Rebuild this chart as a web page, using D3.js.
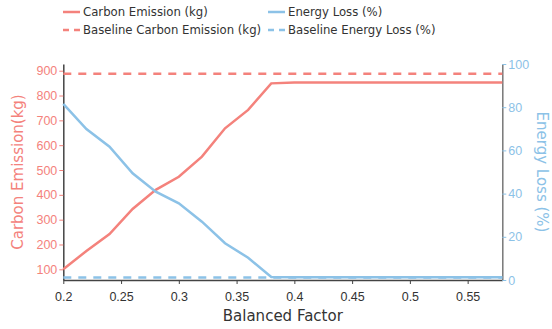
<!DOCTYPE html>
<html><head><meta charset="utf-8">
<script src="https://cdn.jsdelivr.net/npm/d3@7"></script>
<style>body{margin:0;background:#fff}svg{display:block;font-family:"DejaVu Sans",Verdana,sans-serif}</style>
</head><body><div id="chart"></div>
<script>
const factors = [0.2,0.22,0.24,0.26,0.28,0.3,0.32,0.34,0.36,0.38,0.4,0.42,0.44,0.46,0.48,0.5,0.52,0.54,0.56,0.58];
const carbon = [100,174,242,343,420,473,554,668,742,849,852,852,852,852,852,852,852,852,852,852];
const energyLoss = [81.5,69.9,61.7,49.4,40.9,35.5,27,17,10.3,1.4,1.3,1.3,1.3,1.3,1.3,1.3,1.3,1.3,1.3,1.3];
const baselineCarbon = 888;
const baselineEnergy = 1.2;
const xTicks = [0.2,0.25,0.3,0.35,0.4,0.45,0.5,0.55];
const leftTicks = [100,200,300,400,500,600,700,800,900];
const rightTicks = [0,20,40,60,80,100];

const W=552,H=329, L=63.3, R=502.3, T=64, B=280;
const red="#F4827C", blue="#8CC2E7", axisGray="#444";
const svg=d3.select("#chart").append("svg").attr("width",W).attr("height",H);
const x=d3.scaleLinear().domain([0.2,0.58]).range([L,R]);
const yL=d3.scaleLinear().domain([57,927]).range([B,T]);
const yR=d3.scaleLinear().domain([0,100]).range([B,T]);

// axes
const gx=svg.append("g").attr("transform",`translate(0,${B})`)
  .call(d3.axisBottom(x).tickValues(xTicks).tickFormat(d=>d3.format("")(+d.toFixed(2))).tickSize(4).tickSizeOuter(0));
gx.select(".domain").attr("stroke",axisGray).attr("stroke-width",1.5);
gx.selectAll(".tick line").attr("stroke",axisGray);
gx.selectAll("text").attr("fill","#333").style("font-size","12.5px").attr("dy","1.15em");

const gl=svg.append("g").attr("transform",`translate(${L},0)`)
  .call(d3.axisLeft(yL).tickValues(leftTicks).tickSize(4).tickSizeOuter(0));
gl.select(".domain").attr("stroke",axisGray).attr("stroke-width",1.5);
gl.selectAll(".tick line").attr("stroke",red);
gl.selectAll("text").attr("fill",red).style("font-size","12.5px").attr("x",-6);

const gr=svg.append("g").attr("transform",`translate(${R},0)`)
  .call(d3.axisRight(yR).tickValues(rightTicks).tickSize(4).tickSizeOuter(0));
gr.select(".domain").attr("stroke","#777").attr("stroke-width",1.5);
gr.selectAll(".tick line").attr("stroke",blue);
gr.selectAll("text").attr("fill",blue).style("font-size","12.5px").attr("x",6);

// baselines
svg.append("line").attr("x1",L).attr("x2",R).attr("y1",yL(baselineCarbon)).attr("y2",yL(baselineCarbon))
  .attr("stroke",red).attr("stroke-width",2.5).attr("stroke-dasharray","8,7");
svg.append("line").attr("x1",L).attr("x2",R).attr("y1",yR(baselineEnergy)).attr("y2",yR(baselineEnergy))
  .attr("stroke",blue).attr("stroke-width",2.5).attr("stroke-dasharray","8,7");

// lines
svg.append("path").datum(factors.map((f,i)=>[f,carbon[i]]))
  .attr("fill","none").attr("stroke",red).attr("stroke-width",2.5)
  .attr("d",d3.line().x(d=>x(d[0])).y(d=>yL(d[1])));
svg.append("path").datum(factors.map((f,i)=>[f,energyLoss[i]]))
  .attr("fill","none").attr("stroke",blue).attr("stroke-width",2.5)
  .attr("d",d3.line().x(d=>x(d[0])).y(d=>yR(d[1])));

// axis titles
svg.append("text").attr("x",(L+R)/2).attr("y",321).attr("text-anchor","middle")
  .attr("fill","#333").style("font-size","15px").text("Balanced Factor");
svg.append("text").attr("transform",`translate(23,${(T+B)/2}) rotate(-90)`).attr("text-anchor","middle")
  .attr("fill",red).style("font-size","15px").text("Carbon Emission(kg)");
svg.append("text").attr("transform",`translate(537,${(T+B)/2}) rotate(90)`).attr("text-anchor","middle")
  .attr("fill",blue).style("font-size","15px").text("Energy Loss (%)");

// legend
const legend=[
  {label:"Carbon Emission (kg)",color:red,dash:null,x:63,y:12},
  {label:"Energy Loss (%)",color:blue,dash:null,x:268,y:12},
  {label:"Baseline Carbon Emission (kg)",color:red,dash:"6,5",x:63,y:30},
  {label:"Baseline Energy Loss (%)",color:blue,dash:"6,5",x:268,y:30}
];
const lg=svg.append("g").selectAll("g").data(legend).join("g").attr("transform",d=>`translate(${d.x},${d.y})`);
lg.append("line").attr("x1",0).attr("x2",17).attr("stroke",d=>d.color).attr("stroke-width",2.5)
  .attr("stroke-dasharray",d=>d.dash);
lg.append("text").attr("x",20).attr("dy","0.35em").attr("fill","#333").style("font-size","11.7px").text(d=>d.label);
</script></body></html>
